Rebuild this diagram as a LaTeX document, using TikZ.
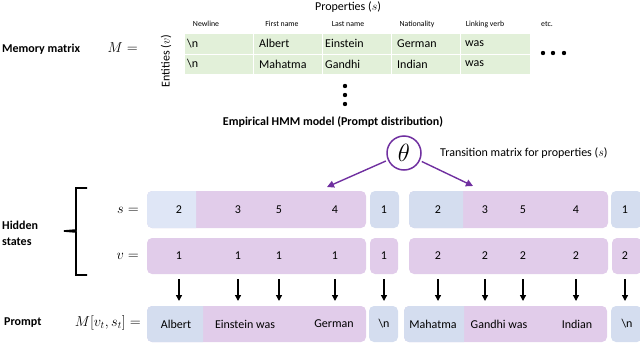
\documentclass[tikz,border=0pt]{standalone}
\usepackage{fontspec}
\setmainfont{Carlito}
\usetikzlibrary{arrows.meta}
\definecolor{cgreen}{HTML}{E2F0D9}
\definecolor{cpurple}{HTML}{E1CCEA}
\definecolor{cblueA}{HTML}{DFE6F6}
\definecolor{cblueB}{HTML}{D4DDEF}
\definecolor{ctheta}{HTML}{7030A0}
\tikzset{
 lbl/.style={font=\fontsize{12}{14}\selectfont, inner sep=0pt},
 boldlbl/.style={font=\fontsize{12}{16}\selectfont\bfseries, inner sep=0pt, align=left},
 hdr/.style={font=\fontsize{7.8}{9}\selectfont, inner sep=0pt},
 cell/.style={fill=cgreen, draw=white, line width=1pt},
 celltxt/.style={anchor=west, font=\fontsize{12}{14}\selectfont, inner sep=0pt},
 num/.style={font=\fontsize{12}{14}\selectfont, inner sep=0pt},
 mathlbl/.style={font=\fontsize{14}{16}\selectfont, inner sep=0pt, anchor=east},
 downarrow/.style={-{Triangle[width=6pt,length=6pt]}, line width=1.3pt},
 thetaarrow/.style={-{Triangle[width=7pt,length=7pt]}, line width=1.4pt, draw=ctheta, shorten <=2pt},
 dotmark/.style={fill=black}
}
\newcommand\splitbox[6]{%
 \fill[cpurple, rounded corners=5pt] (#1,#4) rectangle (#3,#5);
 \begin{scope}\clip (#1-1,#4-1) rectangle (#2,#5+1);
 \fill[#6, rounded corners=5pt] (#1,#4) rectangle (#3,#5);\end{scope}}
\begin{document}
\begin{tikzpicture}[x=1pt,y=-1pt]
\useasboundingbox (0,0) rectangle (640,343);
% ---------- memory matrix ----------
\node[boldlbl, anchor=west] (memlbl) at (2,49) {Memory matrix};
\node[mathlbl] (Meq) at (138,48) {$M =$};
\node[lbl, rotate=90] (entities) at (166,61) {Entities ($v$)};
\node[lbl] (props) at (348,7) {Properties ($s$)};
\foreach \i in {0,...,4} {
  \path[cell] (184+69.2*\i,33) rectangle (184+69.2*\i+69.2,54);
  \path[cell] (184+69.2*\i,54) rectangle (184+69.2*\i+69.2,74);
}
\node[hdr] (h1) at (206,24) {Newline};
\node[hdr] (h2) at (282,24) {First name};
\node[hdr] (h3) at (348,24) {Last name};
\node[hdr] (h4) at (417,24) {Nationality};
\node[hdr] (h5) at (485,24) {Linking verb};
\node[hdr] (h6) at (547,24) {etc.};
\node[celltxt] (c11) at (187,43.5) {\textbackslash n};
\node[celltxt] (c12) at (259,43.5) {Albert};
\node[celltxt] (c13) at (325,43.5) {Einstein};
\node[celltxt] (c14) at (397,43.5) {German};
\node[celltxt] (c15) at (465,43.5) {was};
\node[celltxt] (c21) at (187,64) {\textbackslash n};
\node[celltxt] (c22) at (259,64) {Mahatma};
\node[celltxt] (c23) at (325,64) {Gandhi};
\node[celltxt] (c24) at (397,64) {Indian};
\node[celltxt] (c25) at (465,64) {was};
\fill[dotmark] (543,53) circle (2.2pt) (553,53) circle (2.2pt) (564,53) circle (2.2pt);
\fill[dotmark] (345,86) circle (2.2pt) (345,95) circle (2.2pt) (345,104) circle (2.2pt);
\node[boldlbl] (hmm) at (333,122) {Empirical HMM model (Prompt distribution)};
% ---------- theta ----------
\node[draw=ctheta, line width=1.5pt, circle, minimum size=34pt, inner sep=0pt,
      font=\fontsize{24}{26}\selectfont] (theta) at (404,153) {$\theta$};
\node[lbl, anchor=west] (trans) at (440,153) {Transition matrix for properties ($s$)};
\coordinate (t1) at (327,187);
\coordinate (t2) at (473,186);
\draw[thetaarrow] (theta) -- (t1);
\draw[thetaarrow] (theta) -- (t2);
% ---------- hidden states ----------
\node[boldlbl, anchor=west] (hidden) at (2,233) {Hidden\\states};
\draw[line width=1.6pt] (87,188) -- (76,188) -- (76,230) -- (64,231) -- (76,232) -- (76,275) -- (87,275);
\node[mathlbl] (seq) at (139,210) {$s =$};
\node[mathlbl] (veq) at (139,256) {$v =$};
% s row
\splitbox{147}{196}{366}{191}{228}{cblueA}
\fill[cblueB, rounded corners=5pt] (370,191) rectangle (399,228);
\splitbox{409}{463}{608}{191}{228}{cblueB}
\fill[cblueB, rounded corners=5pt] (611,191) rectangle (642,228);
% v row
\fill[cpurple, rounded corners=5pt] (147,238) rectangle (366,274);
\fill[cpurple, rounded corners=5pt] (370,238) rectangle (398,274);
\fill[cpurple, rounded corners=5pt] (409,238) rectangle (608,274);
\fill[cpurple, rounded corners=5pt] (612,238) rectangle (642,274);
% prompt row
\splitbox{147}{203}{366}{306}{342}{cblueB}
\fill[cblueB, rounded corners=5pt] (369,306) rectangle (398,342);
\splitbox{404}{464}{607}{306}{342}{cblueB}
\fill[cblueB, rounded corners=5pt] (611,306) rectangle (642,342);
% numbers
\foreach \x/\s/\v [count=\k] in {179/2/1,238/3/1,279/5/1,335/4/1,384/1/1,438/2/2,485/3/2,523/5/2,576/4/2,625/1/2} {
  \node[num] (s\k) at (\x,210) {\s};
  \node[num] (v\k) at (\x,256) {\v};
  \coordinate (a\k) at (\x,279);
  \coordinate (b\k) at (\x,301);
  \draw[downarrow] (a\k) -- (b\k);
}
% prompt
\node[boldlbl, anchor=west] (prompt) at (4,323) {Prompt};
\node[mathlbl] (Mvs) at (141,323) {$M[v_t, s_t] =$};
\node[lbl] (p1) at (176,324) {Albert};
\node[lbl] (p2) at (245,324) {Einstein was};
\node[lbl] (p3) at (334,324) {German};
\node[lbl] (p4) at (384,324) {\textbackslash n};
\node[lbl] (p5) at (433,324) {Mahatma};
\node[lbl] (p6) at (499,324) {Gandhi was};
\node[lbl] (p7) at (577,324) {Indian};
\node[lbl] (p8) at (627,324) {\textbackslash n};
\end{tikzpicture}
\end{document}
